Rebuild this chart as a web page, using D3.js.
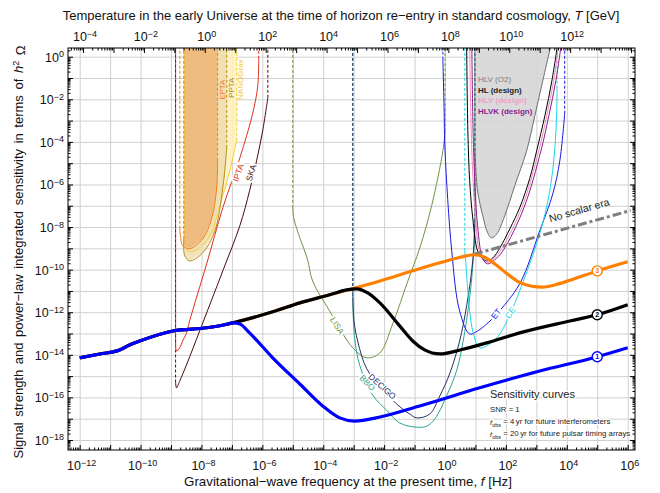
<!DOCTYPE html>
<html>
<head>
<meta charset="utf-8">
<script src="https://cdn.jsdelivr.net/npm/d3@7"></script>
<style>
body { margin: 0; background: #fff; }
svg { font-family: "Liberation Sans", Arial, sans-serif; }
</style>
</head>
<body>
<svg id="chart" width="660" height="493"></svg>
<script>
// every point is [log10 f / Hz, log10 h^2 Omega]

// signals (thick curves)
const signal1 = [[-12, -14.14], [-11.34, -13.96], [-10.69, -13.77], [-10.49, -13.63], [-10.29, -13.49],
	[-10.03, -13.35], [-8.94, -12.88], [-7.83, -12.73], [-7.24, -12.59], [-6.97, -12.50], [-6.74, -12.55],
	[-6.42, -12.97], [-5.66, -14.14], [-4.77, -15.37], [-4.02, -16.40], [-3.46, -16.96], [-2.97, -17.11],
	[-2.14, -16.92], [-0.83, -16.40], [1.14, -15.55], [3.11, -14.76], [4.98, -14.10], [6.0, -13.67]];
const signal2 = [[-12, -14.14], [-11.34, -13.96], [-10.69, -13.77], [-10.49, -13.63], [-10.29, -13.49],
	[-10.03, -13.35], [-8.94, -12.88], [-7.83, -12.73], [-7.24, -12.59], [-6.97, -12.50], [-5.66, -11.98],
	[-4.77, -11.56], [-3.79, -11.18], [-3.23, -10.95], [-2.90, -10.90], [-2.54, -11.09], [-2.14, -11.56],
	[-1.49, -12.64], [-1.06, -13.35], [-0.67, -13.77], [-0.17, -13.96], [0.55, -13.75], [1.37, -13.44],
	[2.45, -12.97], [4.10, -12.41], [5.0, -12.12], [6.0, -11.65]];
const signal3 = [[-12, -14.14], [-11.34, -13.96], [-10.69, -13.77], [-10.49, -13.63], [-10.29, -13.49],
	[-10.03, -13.35], [-8.94, -12.88], [-7.83, -12.73], [-7.24, -12.59], [-6.97, -12.50], [-5.66, -11.98],
	[-4.77, -11.56], [-3.79, -11.18], [-3.06, -10.90], [-2.14, -10.53], [-1.16, -10.10], [-0.17, -9.68],
	[0.5, -9.42], [0.93, -9.30], [1.3, -9.42], [1.65, -9.75], [2.0, -10.15], [2.45, -10.60], [2.85, -10.78],
	[3.2, -10.82], [3.6, -10.72], [4.10, -10.50], [5.0, -10.06], [6.0, -9.63]];
const noScalar = [[0.95, -9.28], [6.1, -7.22]];
const markerFreq = 5;

// pulsar timing arrays
const ipta = [[-8.85, -13.55], [-8.82, -13.82], [-8.72, -13.68], [-8.62, -13.35], [-8.49, -12.98],
	[-8.39, -12.41], [-7.83, -9.73], [-7.30, -7.10], [-6.74, -4.75], [-6.32, -2.68], [-6.15, -1.36], [-6.12, -0.1]];
const ska = [[-8.85, -15.30], [-8.82, -15.55], [-8.72, -15.25], [-8.48, -14.43], [-8.06, -12.88],
	[-7.30, -10.06], [-6.74, -7.94], [-6.42, -6.30], [-6.19, -4.89], [-5.99, -3.48], [-5.82, -1.93]];
const epta = [[-8.71, -8.08], [-8.68, -8.55], [-8.62, -8.88], [-8.39, -9.02], [-7.96, -8.55],
	[-7.66, -7.57], [-7.50, -6.16], [-7.47, -4.89]];
const ppta = [[-8.58, -8.55], [-8.55, -9.35], [-8.39, -9.59], [-7.96, -9.21], [-7.56, -8.18],
	[-7.30, -6.16], [-7.17, -4.28]];
const nanograv = [[-8.55, -8.65], [-8.45, -9.12], [-8.22, -9.12], [-7.73, -8.41], [-7.40, -7.00],
	[-7.07, -5.36], [-6.88, -4.18], [-6.84, -3.95]];
const ptaFillEdge = -8.58;

// space and ground interferometers
const lisa = [[-5.0, -7.10], [-4.97, -7.57], [-4.77, -8.50], [-4.52, -9.50], [-4.35, -10.53], [-3.79, -11.94],
	[-3.03, -13.67], [-2.57, -14.14], [-2.14, -13.91], [-1.72, -12.55], [-1.22, -10.53], [-0.83, -8.98],
	[-0.44, -7.0], [-0.07, -4.42], [0.0, -3.5]];
const decigo = [[-3.03, -11.0], [-2.99, -12.41], [-2.87, -13.35], [-2.57, -14.66], [-2.05, -15.60],
	[-1.59, -16.31], [-1.16, -16.78], [-0.93, -16.96], [-0.50, -16.78], [-0.17, -15.93], [0.15, -14.9],
	[0.48, -13.35], [0.71, -11.70], [0.91, -9.59], [0.98, -7.71]];
const bbo = [[-3.03, -11.47], [-2.97, -13.2], [-2.80, -14.5], [-2.37, -15.9], [-1.92, -16.6], [-1.49, -17.2],
	[-0.93, -17.4], [-0.60, -17.35], [-0.33, -17.0], [0.06, -15.9], [0.39, -14.7], [0.65, -12.9],
	[0.85, -10.8], [0.98, -8.5]];
const et = [[-0.07, -0.14], [-0.03, -2.5], [0.0, -4.42], [0.22, -9.12], [0.48, -11.94], [0.81, -13.02],
	[1.07, -12.88], [1.37, -12.55], [1.70, -12.08], [2.45, -10.67], [3.11, -8.18], [3.54, -6.44],
	[3.77, -4.89], [3.93, -2.68]];
const ce = [[0.65, -9.12], [0.68, -9.59], [0.75, -11.0], [0.91, -12.88], [1.14, -13.67], [1.47, -13.49],
	[1.80, -13.02], [2.13, -12.12], [2.45, -11.0], [3.11, -8.32], [3.44, -6.30], [3.60, -4.42],
	[3.67, -2.54], [3.68, -1.5]];
const hlvO2 = [[0.98, -4.42], [1.07, -6.30], [1.24, -7.47], [1.40, -8.27], [1.53, -8.51], [1.70, -8.32],
	[1.96, -7.47], [2.29, -6.06], [2.68, -4.42], [2.95, -2.77], [3.21, -1.13], [3.44, 0.28], [3.50, 0.6]];
const hl = [[0.71, 0.6], [0.75, -3.48], [0.81, -5.83], [0.91, -7.57], [1.07, -9.12], [1.24, -9.49],
	[1.37, -9.59], [1.57, -9.45], [1.80, -8.98], [2.13, -8.08], [2.45, -7.10], [2.78, -5.73], [3.01, -4.42],
	[3.28, -2.77], [3.51, -1.13], [3.70, 0.6]];
const hlv = [[0.81, 0.6], [0.88, -4.42], [1.01, -7.71], [1.17, -9.35], [1.37, -9.68], [1.60, -9.49],
	[1.86, -9.02], [2.52, -7.10], [3.08, -4.42], [3.34, -2.77], [3.57, -1.13], [3.73, 0.6]];
const hlvk = [[0.88, 0.6], [0.94, -4.42], [1.07, -7.94], [1.24, -9.49], [1.40, -9.73], [1.63, -9.54],
	[1.90, -9.12], [2.59, -7.10], [3.15, -4.42], [3.41, -2.77], [3.64, -1.13], [3.82, 0.6]];

// ticks (exponents)
const freqTicks = [-12, -10, -8, -6, -4, -2, 0, 2, 4, 6];
const tempTicks = [-4, -2, 0, 2, 4, 6, 8, 10, 12];
const omegaTicks = [0, -2, -4, -6, -8, -10, -12, -14, -16, -18];
const tempOffset = 7.89; // log10 T[GeV] - log10 f[Hz]

const hlLegend = ['HLV (O2)', 'HL (design)', 'HLV (design)', 'HLVK (design)'];

// ---------------------------------------------------------------------------
const frame = {left: 68, right: 635, top: 48, bottom: 450};
const fDom = [-12.384, 6.24];
const oDom = [-18.47, 0.409];
const topO = 0.8;

const x = d3.scaleLog().domain(fDom.map(e => 10 ** e)).range([frame.left, frame.right]);
const y = d3.scaleLog().domain(oDom.map(e => 10 ** e)).range([frame.bottom, frame.top]);
const xT = d3.scaleLog().domain(fDom.map(e => 10 ** (e + tempOffset))).range([frame.left, frame.right]);

const px = d => x(10 ** d[0]);
const py = d => y(10 ** d[1]);

const smooth = d3.line().x(px).y(py).curve(d3.curveCatmullRom.alpha(0.5));
const mono = d3.line().x(px).y(py).curve(d3.curveMonotoneX);
const straight = d3.line().x(px).y(py);

const svg = d3.select('#chart');

svg.append('defs').append('clipPath').attr('id', 'clip')
		.append('rect')
		.attr('x', frame.left).attr('y', frame.top)
		.attr('width', frame.right - frame.left).attr('height', frame.bottom - frame.top);

function minorValues(dom, offset) {
	let vals = [];
	for (let e = Math.floor(dom[0] + offset); e <= Math.ceil(dom[1] + offset); e++) {
		for (let k = 2; k <= 9; k++) {
			let v = k * 10 ** e;
			if (Math.log10(v) >= dom[0] + offset && Math.log10(v) <= dom[1] + offset) vals.push(v);
		}
	}
	return vals;
}
function decadeValues(dom, offset) {
	return d3.range(Math.ceil(dom[0] + offset), Math.floor(dom[1] + offset) + 1).map(e => 10 ** e);
}
function supLabel(sel, e) {
	sel.text(null);
	sel.append('tspan').text('10');
	sel.append('tspan').attr('dy', '-0.5em').attr('font-size', '9px').text(e < 0 ? '\u2212' + (-e) : e);
}

// ---------------- grid ----------------
const grid = svg.append('g');
grid.append('g')
		.attr('transform', `translate(0,${frame.bottom})`)
		.call(d3.axisBottom(x).tickValues(decadeValues(fDom, 0)).tickSize(-(frame.bottom - frame.top)).tickFormat(''))
		.call(s => s.select('.domain').remove())
		.selectAll('line').attr('stroke', '#d0d0d0');
grid.append('g')
		.attr('transform', `translate(${frame.left},0)`)
		.call(d3.axisLeft(y).tickValues(decadeValues(oDom, 0)).tickSize(-(frame.right - frame.left)).tickFormat(''))
		.call(s => s.select('.domain').remove())
		.selectAll('line').attr('stroke', '#d0d0d0');

const plot = svg.append('g').attr('clip-path', 'url(#clip)');

// ---------------- filled regions ----------------
function regionPoly(pts, leftEdge) {
	let body = pts.map(p => [Math.max(p[0], leftEdge), p[1]]);
	return [[body[0][0], topO], ...body, [body[body.length - 1][0], topO]];
}
const fills = [
	{pts: nanograv, fill: '#fff1b8', op: 0.85},
	{pts: ppta, fill: '#eddcae', op: 0.8},
	{pts: epta, fill: '#efb373', op: 0.8}
];
fills.forEach(r => {
	plot.append('path')
			.attr('d', straight(regionPoly(r.pts, ptaFillEdge)))
			.attr('fill', r.fill)
			.attr('fill-opacity', r.op);
});
plot.append('path')
		.attr('d', smooth([[hlvO2[0][0], topO], ...hlvO2]))
		.attr('fill', '#d6d6d6')
		.attr('fill-opacity', 0.9);

// ---------------- sensitivity curves ----------------
const sens = [
	{pts: nanograv, color: '#f7cf2e'},
	{pts: ppta, color: '#b68a1e'},
	{pts: epta, color: '#f47a20'},
	{pts: ska, color: '#4a0a0a'},
	{pts: ipta, color: '#e0301c'},
	{pts: lisa, color: '#6e9444'},
	{pts: bbo, color: '#2ba58e'},
	{pts: decigo, color: '#243066'},
	{pts: hlvO2, color: '#6e6e6e'},
	{pts: et, color: '#1a1ae6'},
	{pts: ce, color: '#1ad6e6'},
	{pts: hl, color: '#000000'},
	{pts: hlv, color: '#f08cb8'},
	{pts: hlvk, color: '#8e1c8e'}
];
sens.forEach(s => {
	let first = s.pts[0], last = s.pts[s.pts.length - 1];
	[first, last].forEach(p => {
		if (p[1] < oDom[1]) {
			plot.append('path')
					.attr('d', straight([p, [p[0], topO]]))
					.attr('stroke', s.color)
					.attr('stroke-width', 1)
					.attr('stroke-dasharray', '3,2')
					.attr('fill', 'none');
		}
	});
	plot.append('path')
			.attr('d', smooth(s.pts))
			.attr('stroke', s.color)
			.attr('stroke-width', 1)
			.attr('fill', 'none');
});

// ---------------- labels on curves ----------------
const curveLabels = [
	{text: 'EPTA', f: -7.32, o: -1.55, angle: -90, color: '#f07828', box: false},
	{text: 'PPTA', f: -7.02, o: -1.46, angle: -90, color: '#a8873a', box: false},
	{text: 'NANOGrav', f: -6.73, o: -1.08, angle: -90, color: '#f4c430', box: false},
	{text: 'IPTA', f: -6.79, o: -5.45, angle: -72, color: '#e0301c', box: true},
	{text: 'SKA', f: -6.37, o: -5.45, angle: -73, color: '#4a0a0a', box: true},
	{text: 'LISA', f: -3.54, o: -12.63, angle: 58, color: '#6e9444', box: true},
	{text: 'BBO', f: -2.55, o: -15.31, angle: 45, color: '#2ba58e', box: true},
	{text: 'DECIGO', f: -2.06, o: -15.49, angle: 42, color: '#243066', box: true},
	{text: 'ET', f: 1.68, o: -12.07, angle: -50, color: '#1a1ae6', box: true},
	{text: 'CE', f: 2.14, o: -12.02, angle: -55, color: '#1ad6e6', box: true}
];
curveLabels.forEach(t => {
	let gL = svg.append('g')
			.attr('transform', `translate(${x(10 ** t.f)},${y(10 ** t.o)}) rotate(${t.angle})`);
	let txt = gL.append('text')
			.attr('text-anchor', 'middle')
			.attr('dy', '0.35em')
			.attr('font-size', t.box ? 8.5 : 8)
			.attr('fill', t.color)
			.text(t.text);
	if (t.box) {
		let b = txt.node().getBBox();
		gL.insert('rect', 'text')
				.attr('x', b.x - 1).attr('y', b.y + 0.5)
				.attr('width', b.width + 2).attr('height', b.height - 1)
				.attr('fill', '#fff');
	}
});

const hlColors = ['#808080', '#222222', '#f0a0c4', '#8e1c8e'];
hlLegend.forEach((t, i) => {
	svg.append('text')
			.attr('x', x(10 ** 1.08))
			.attr('y', y(10 ** (-1.2 - i * 0.49)))
			.attr('font-size', 8)
			.attr('fill', hlColors[i])
			.attr('font-weight', i === 0 ? 'normal' : 'bold')
			.text(t);
});

// ---------------- signals ----------------
plot.append('path').attr('d', straight(noScalar))
		.attr('stroke', '#7f7f7f').attr('stroke-width', 3)
		.attr('stroke-dasharray', '9,3,3,3').attr('fill', 'none');

const signals = [
	{pts: signal3, color: '#ff8000', n: 3},
	{pts: signal2, color: '#000000', n: 2},
	{pts: signal1, color: '#0000ff', n: 1}
];
signals.forEach(s => {
	plot.append('path').attr('d', mono(s.pts))
			.attr('stroke', s.color).attr('stroke-width', 3.2)
			.attr('fill', 'none').attr('stroke-linejoin', 'round');
});

function valueAt(pts, lf) {
	for (let i = 1; i < pts.length; i++) {
		if (pts[i][0] >= lf) {
			let t = (lf - pts[i - 1][0]) / (pts[i][0] - pts[i - 1][0]);
			return pts[i - 1][1] + t * (pts[i][1] - pts[i - 1][1]);
		}
	}
	return pts[pts.length - 1][1];
}
signals.forEach(s => {
	let cx = x(10 ** markerFreq), cy = y(10 ** valueAt(s.pts, markerFreq));
	svg.append('circle').attr('cx', cx).attr('cy', cy).attr('r', 5)
			.attr('fill', '#fff').attr('stroke', s.color).attr('stroke-width', 1.4);
	svg.append('text').attr('x', cx).attr('y', cy).attr('dy', '0.35em')
			.attr('text-anchor', 'middle').attr('font-size', 7).attr('font-weight', 'bold')
			.attr('fill', s.color).text(s.n);
});

// no scalar era label
svg.append('text')
		.attr('transform', `translate(${x(10 ** 4.44)},${y(10 ** -7.37)}) rotate(-16)`)
		.attr('text-anchor', 'middle')
		.attr('font-size', 10.5)
		.attr('fill', '#222')
		.text('No scalar era');

// ---------------- frame and ticks ----------------
const axes = svg.append('g');
function tickAxis(axisFn, scale, dom, offset, pos) {
	let g = axes.append('g').attr('transform', pos);
	g.call(axisFn(scale).tickValues(minorValues(dom, offset)).tickSize(-2.5).tickFormat(''))
			.call(s => s.select('.domain').remove());
	let g2 = axes.append('g').attr('transform', pos);
	g2.call(axisFn(scale).tickValues(decadeValues(dom, offset)).tickSize(-5).tickFormat(''))
			.call(s => s.select('.domain').remove());
	return g2;
}
tickAxis(d3.axisBottom, x, fDom, 0, `translate(0,${frame.bottom})`);
tickAxis(d3.axisTop, xT, fDom, tempOffset, `translate(0,${frame.top})`);
tickAxis(d3.axisLeft, y, oDom, 0, `translate(${frame.left},0)`);
tickAxis(d3.axisRight, y, oDom, 0, `translate(${frame.right},0)`);

axes.append('rect')
		.attr('x', frame.left).attr('y', frame.top)
		.attr('width', frame.right - frame.left).attr('height', frame.bottom - frame.top)
		.attr('fill', 'none').attr('stroke', '#000').attr('stroke-width', 1);

// tick labels
freqTicks.forEach(e => {
	svg.append('text').attr('x', x(10 ** e) + 2).attr('y', 470)
			.attr('text-anchor', 'middle').attr('font-size', 12.5).attr('fill', '#111')
			.call(s => supLabel(s, e));
});
tempTicks.forEach(e => {
	svg.append('text').attr('x', xT(10 ** e) + 2).attr('y', 41)
			.attr('text-anchor', 'middle').attr('font-size', 12.5).attr('fill', '#111')
			.call(s => supLabel(s, e));
});
omegaTicks.forEach(e => {
	svg.append('text').attr('x', 64).attr('y', y(10 ** e) + 5)
			.attr('text-anchor', 'end').attr('font-size', 12.5).attr('fill', '#111')
			.call(s => supLabel(s, e));
});

// axis titles
const topTitle = svg.append('text').attr('x', 341).attr('y', 20)
		.attr('text-anchor', 'middle').attr('font-size', 13).attr('fill', '#111');
topTitle.append('tspan').text('Temperature in the early Universe at the time of horizon re\u2212entry in standard cosmology, ');
topTitle.append('tspan').attr('font-style', 'italic').text('T');
topTitle.append('tspan').text(' [GeV]');

const botTitle = svg.append('text').attr('x', 348).attr('y', 486)
		.attr('text-anchor', 'middle').attr('font-size', 13.3).attr('fill', '#111');
botTitle.append('tspan').text('Gravitational\u2212wave frequency at the present time, ');
botTitle.append('tspan').attr('font-style', 'italic').text('f');
botTitle.append('tspan').text(' [Hz]');

const leftTitle = svg.append('text')
		.attr('transform', 'translate(23,252) rotate(-90)')
		.attr('text-anchor', 'middle').attr('font-size', 13).attr('fill', '#111')
		.attr('word-spacing', 2);
leftTitle.append('tspan').text('Signal strength and power\u2212law integrated sensitivity in terms of ');
leftTitle.append('tspan').attr('font-style', 'italic').text('h');
leftTitle.append('tspan').attr('dy', '-0.5em').attr('font-size', '9px').text('2');
leftTitle.append('tspan').attr('dy', '0.5em').text(' \u03a9');

// sensitivity legend
const legX = 490;
const legend = svg.append('g').attr('fill', '#222')
		.attr('stroke', '#fff').attr('stroke-width', 2.5).attr('paint-order', 'stroke');
legend.append('text').attr('x', legX).attr('y', 398).attr('font-size', 11).text('Sensitivity curves');
legend.append('text').attr('x', legX).attr('y', 412).attr('font-size', 7.8).text('SNR = 1');
[['4', 'interferometers'], ['20', 'pulsar timing arrays']].forEach((r, i) => {
	let t = legend.append('text').attr('x', legX).attr('y', 425 + i * 12).attr('font-size', 7.8);
	t.append('tspan').attr('font-style', 'italic').text('t');
	t.append('tspan').attr('dy', '0.3em').attr('font-size', '5.5px').text('obs');
	t.append('tspan').attr('dy', '-0.3em').text(` = ${r[0]}\u2009yr for future ${r[1]}`);
});
</script>
</body>
</html>
